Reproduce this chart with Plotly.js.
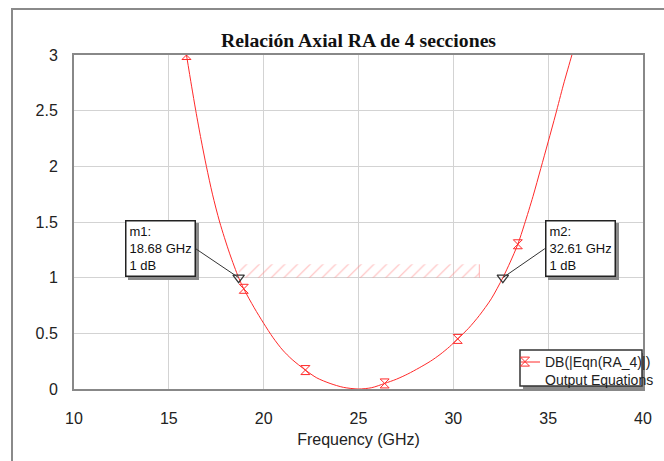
<!DOCTYPE html>
<html>
<head>
<meta charset="utf-8">
<script src="https://cdn.plot.ly/plotly-3.0.1.min.js"></script>
<style>html,body{margin:0;padding:0;background:#fff;}#chart{width:664px;height:461px;}</style>
</head>
<body>
<div id="chart"></div>
<script>
// Frequency (GHz) and axial ratio (dB)
const freq = [15.93,16.2,16.42,16.7,16.98,17.3,17.68,18.2,18.68,18.95,19.5,20.0,20.5,21.0,21.5,22.2,22.8,23.5,24.2,25.0,25.7,26.38,27.0,27.6,28.2,28.8,29.3,29.8,30.23,30.8,31.37,32.0,32.61,33.0,33.4,33.75,34.2,34.61,35.0,35.4,35.8,36.25,36.6];
const ra   = [3.0,2.72,2.5,2.24,2.0,1.75,1.5,1.22,1.0,0.9,0.73,0.59,0.46,0.35,0.265,0.17,0.10,0.05,0.015,0.0,0.012,0.05,0.088,0.135,0.19,0.25,0.31,0.38,0.45,0.545,0.66,0.81,1.0,1.14,1.3,1.48,1.73,1.98,2.22,2.47,2.73,3.0,3.21];
// Frequencies where the trace symbols sit
const symbolFreq = [15.93,18.95,22.2,26.38,30.23,33.4];
// Markers m1 / m2
const markerNames = ['m1','m2'];
const markerFreq  = [18.68,32.61];
const markerVal   = [1,1];
// Hatched specification region
const specFreq  = [18.68,31.37];
const specLevel = [1,1.12];
const xTicks = [10,15,20,25,30,35,40];
const yTicks = [0,0.5,1,1.5,2,2.5,3];

const symX = [], symY = [];
symbolFreq.forEach(f => { symX.push(f); symY.push(ra[freq.indexOf(f)]); });

const red = '#ff2a2a';
const traces = [
  { // hatched region
    x:[specFreq[0],specFreq[1],specFreq[1],specFreq[0],specFreq[0]],
    y:[specLevel[0],specLevel[0],specLevel[1],specLevel[1],specLevel[0]],
    mode:'lines', fill:'toself', fillcolor:'rgba(0,0,0,0)',
    fillpattern:{shape:'/', fgcolor:'rgba(255,130,130,0.55)', bgcolor:'rgba(0,0,0,0)', size:9, solidity:0.12},
    line:{width:0}, showlegend:false, hoverinfo:'skip'
  },
  { // right edge of hatched region
    x:[specFreq[1],specFreq[1]], y:[specLevel[0],specLevel[1]],
    mode:'lines', line:{color:'rgba(255,130,130,0.6)', width:1}, showlegend:false, hoverinfo:'skip'
  },
  {
    x:freq, y:ra, mode:'lines', line:{color:red, width:1, shape:'spline', smoothing:0.8},
    showlegend:false
  },
  {
    x:symX, y:symY, mode:'markers',
    name:'DB(|Eqn(RA_4)|)<br>Output Equations',
    marker:{symbol:'hourglass-open', size:9, color:red, line:{color:red, width:1}}
  },
  {
    x:markerFreq, y:markerVal, mode:'markers', showlegend:false,
    marker:{symbol:'triangle-down-open', size:10, color:'#333', line:{color:'#333', width:1.2}}
  }
];

const font = 'Arial, "Liberation Sans", sans-serif';
const annotations = [];
markerNames.forEach((m, i) => {
  const left = i === 0;
  const ax = left ? -43 : 42;
  const txt = m + ':<br>' + markerFreq[i].toFixed(2) + ' GHz<br>' + markerVal[i] + ' dB';
  const common = {
    x:markerFreq[i], y:markerVal[i], xref:'x', yref:'y', ax:ax, ay:-29,
    xanchor: left ? 'right' : 'left', yanchor:'middle',
    align:'left', showarrow:true, arrowhead:0, standoff:0,
    width:62, height:48, borderpad:3, borderwidth:1.5
  };
  annotations.push(Object.assign({}, common, {
    text:' ', arrowcolor:'rgba(0,0,0,0)', xshift:3, yshift:-3,
    font:{family:font, size:13, color:'#8a8a8a'},
    bgcolor:'#8a8a8a', bordercolor:'#8a8a8a'
  }));
  annotations.push(Object.assign({}, common, {
    text:txt, arrowcolor:'#333', arrowwidth:1,
    font:{family:font, size:13, color:'#111'},
    bgcolor:'#ffffff', bordercolor:'#222'
  }));
});

const px = v => (v - 74) / 569;
const py = v => (389 - v) / 334;

const layout = {
  width:664, height:461,
  margin:{l:74, r:21, t:55, b:72, autoexpand:false},
  paper_bgcolor:'#ffffff', plot_bgcolor:'#ffffff',
  title:{text:'Relación Axial RA de 4 secciones', x:0.5, xref:'paper', xanchor:'center', y:1-40/461, yanchor:'middle',
         font:{family:'"Times New Roman", "Liberation Serif", serif', size:19.7, color:'#111', weight:'bold'}},
  xaxis:{range:[10,40], tickvals:xTicks, ticktext:xTicks.map(String), showgrid:true, gridcolor:'#d3d3d3', gridwidth:1,
         zeroline:false, showline:true, linecolor:'#888', linewidth:2, mirror:true, automargin:false,
         ticks:'outside', ticklen:14, tickcolor:'rgba(0,0,0,0)',
         tickfont:{family:font, size:16, color:'#222'},
         title:{text:'Frequency (GHz)', font:{family:font, size:16, color:'#222'}, standoff:8}},
  yaxis:{range:[0,3], tickvals:yTicks, ticktext:yTicks.map(String), showgrid:true, gridcolor:'#d3d3d3', gridwidth:1,
         zeroline:false, showline:true, linecolor:'#888', linewidth:2, mirror:true, automargin:false,
         ticks:'outside', ticklen:11, tickcolor:'rgba(0,0,0,0)',
         tickfont:{family:font, size:16, color:'#222'}},
  showlegend:true,
  legend:{x:px(505), y:py(346), xanchor:'left', yanchor:'top', bgcolor:'rgba(0,0,0,0)', borderwidth:0,
          valign:'top', font:{family:font, size:14, color:'#222'}, tracegroupgap:0},
  shapes:[
    {type:'path', xref:'paper', yref:'paper', layer:'below',
     path:'M '+px(12)+' '+py(480)+' L '+px(12)+' '+py(9)+' L '+px(680)+' '+py(9),
     line:{color:'#8a8a8a', width:2}},
    {type:'rect', xref:'paper', yref:'paper', layer:'above',
     x0:px(523), x1:px(645), y0:py(389), y1:py(353), fillcolor:'#8a8a8a', line:{width:0}},
    {type:'rect', xref:'paper', yref:'paper', layer:'above',
     x0:px(520), x1:px(642), y0:py(386), y1:py(350), fillcolor:'#ffffff', line:{color:'#333', width:1.5}},
    {type:'line', xref:'paper', yref:'paper', layer:'above',
     x0:px(521), x1:px(540), y0:py(362), y1:py(362), line:{color:red, width:1}}
  ],
  annotations:annotations
};

Plotly.newPlot('chart', traces, layout, {displayModeBar:false, staticPlot:true});
</script>
</body>
</html>
